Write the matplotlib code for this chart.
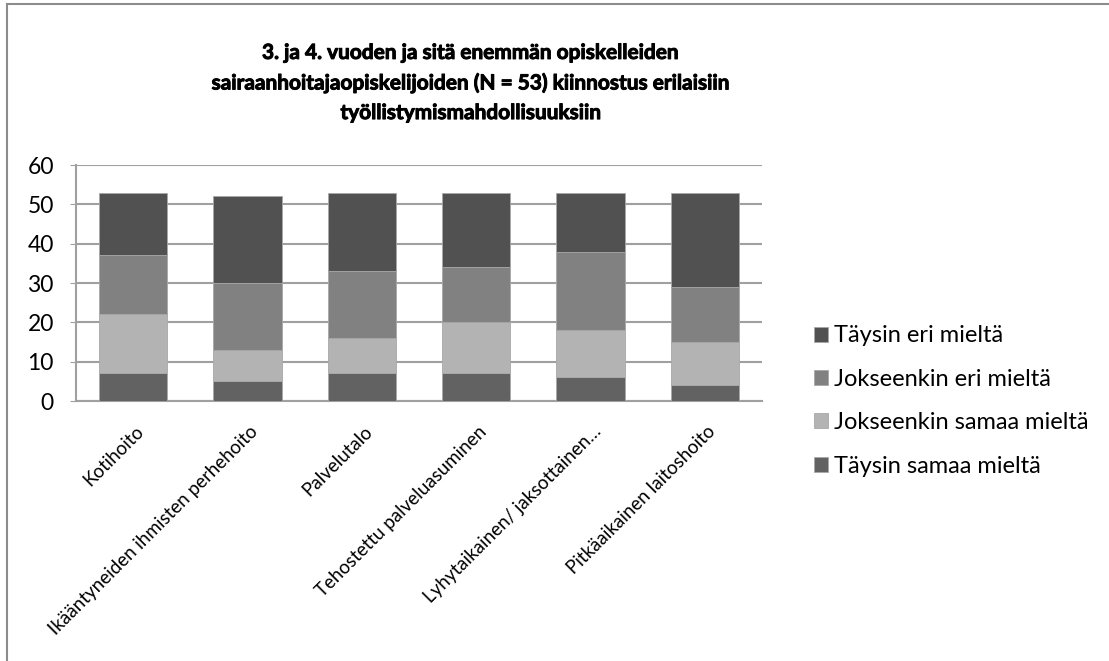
import numpy as np
import matplotlib
matplotlib.use('Agg')
import matplotlib.pyplot as plt
import matplotlib.patheffects as pe
from matplotlib.lines import Line2D
from matplotlib.transforms import ScaledTranslation

categories = ['Kotihoito', 'Ikääntyneiden ihmisten perhehoito', 'Palvelutalo',
              'Tehostettu palveluasuminen', 'Lyhytaikainen/ jaksottainen…',
              'Pitkäaikainen laitoshoito']
taysin_samaa = [7, 5, 7, 7, 6, 4]
jokseenkin_samaa = [15, 8, 9, 13, 12, 11]
jokseenkin_eri = [15, 17, 17, 14, 20, 14]
taysin_eri = [16, 22, 20, 19, 15, 24]

series = [
    ('Täysin samaa mieltä', taysin_samaa, '#626262'),
    ('Jokseenkin samaa mieltä', jokseenkin_samaa, '#b3b3b3'),
    ('Jokseenkin eri mieltä', jokseenkin_eri, '#818181'),
    ('Täysin eri mieltä', taysin_eri, '#515151'),
]

title = ('3. ja 4. vuoden ja sitä enemmän opiskelleiden\n'
         'sairaanhoitajaopiskelijoiden (N = 53) kiinnostus erilaisiin\n'
         'työllistymismahdollisuuksiin')

plt.rcParams['font.family'] = ['Lato', 'DejaVu Sans']

W, H = 1109, 661
fig = plt.figure(figsize=(W / 100, H / 100), dpi=100)
ax = fig.add_axes([76 / W, 1 - 401 / H, (762 - 76) / W, (401 - 165) / H])

x = np.arange(len(categories))
bottom = np.zeros(len(categories))
handles = []
for label, vals, color in series:
    b = ax.bar(x, vals, width=0.6, bottom=bottom, color=color,
               edgecolor='#a8a8a8', linewidth=0.6, label=label, zorder=3)
    handles.append(b)
    bottom += np.array(vals)

ax.set_xlim(-0.5, len(categories) - 0.5)
ax.set_ylim(0, 60)
ax.set_yticks(range(0, 61, 10))
ax.tick_params(axis='y', labelsize=16.5, length=4, color='#a0a0a0', pad=12)
ax.tick_params(axis='x', length=0, pad=0)
ax.set_xticks(x)
ax.set_xticklabels(categories, rotation=45, ha='right', va='center',
                   rotation_mode='anchor', fontsize=13.5)
shift = ScaledTranslation(8 / 100, -28 / 100, fig.dpi_scale_trans)
for t in ax.get_xticklabels():
    t.set_transform(t.get_transform() + shift)
ax.grid(axis='y', color='#a0a0a0', linewidth=1.5, zorder=0)
for s in ['top', 'right']:
    ax.spines[s].set_visible(False)
for s in ['left', 'bottom']:
    ax.spines[s].set_color('#a0a0a0')
    ax.spines[s].set_linewidth(1.5)

fig.text(471 / W, 1 - 83 / H, title, ha='center', va='center',
         fontsize=15, fontweight='bold', linespacing=1.6,
         path_effects=[pe.withStroke(linewidth=0.7, foreground='black')])

leg = fig.legend(handles[::-1], [s[0] for s in series][::-1],
                 loc='center left', bbox_to_anchor=(793 / W, 1 - 401 / H),
                 frameon=False, fontsize=17, handlelength=0.6, handleheight=0.6,
                 handletextpad=0.25, labelspacing=0.95)

fig.add_artist(Line2D([7 / W, 7 / W], [0, 1 - 4 / H], transform=fig.transFigure,
                      color='#8c8c8c', linewidth=1.5))
fig.add_artist(Line2D([7 / W, 1], [1 - 4 / H, 1 - 4 / H], transform=fig.transFigure,
                      color='#8c8c8c', linewidth=1.5))

fig.savefig('out.png', dpi=100)
